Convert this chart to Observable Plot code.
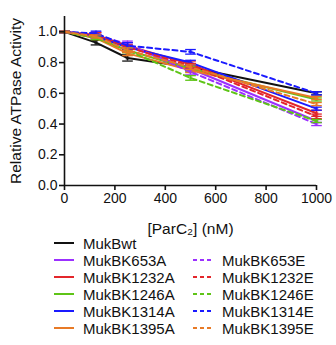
<!DOCTYPE html>
<html>
<head>
<meta charset="utf-8">
<script src="https://cdn.jsdelivr.net/npm/d3@7"></script>
<script src="https://cdn.jsdelivr.net/npm/@observablehq/plot@0.6"></script>
<style>
  body { margin: 0; background: #fff; font-family: "Liberation Sans", Arial, sans-serif; }
  #wrap { position: relative; width: 336px; height: 345px; }
  #chart { position: absolute; left: 0; top: 0; }
  #legend { position: absolute; left: 0; top: 234px; width: 336px; }
  .row { position: absolute; height: 18px; display: flex; align-items: center; font-size: 15px; color: #111; white-space: nowrap; }
  .row svg { margin-right: 9px; }
</style>
</head>
<body>
<div id="wrap"><div id="chart"></div><div id="legend"></div></div>
<script>
const conc = [0, 125, 250, 500, 1000];
const seriesNames = ["MukBwt","MukBK653A","MukBK1232A","MukBK1246A","MukBK1314A","MukBK1395A",
  "MukBK653E","MukBK1232E","MukBK1246E","MukBK1314E","MukBK1395E"];
const seriesColors = ["#111111","#9b30ff","#e3262b","#5ec417","#1a1aff","#e87a26",
  "#9b30ff","#e3262b","#5ec417","#1a1aff","#e87a26"];
const seriesDashed = [false,false,false,false,false,false,true,true,true,true,true];
const vMukBwt     = [1.00, 0.93, 0.83, 0.77, 0.60];
const vMukBK653A  = [1.00, 0.97, 0.91, 0.76, 0.42];
const vMukBK1232A = [1.00, 0.98, 0.91, 0.79, 0.47];
const vMukBK1246A = [1.00, 0.96, 0.88, 0.76, 0.56];
const vMukBK1314A = [1.00, 0.97, 0.90, 0.80, 0.50];
const vMukBK1395A = [1.00, 0.96, 0.86, 0.75, 0.57];
const vMukBK653E  = [1.00, 0.98, 0.92, 0.74, 0.40];
const vMukBK1232E = [1.00, 0.98, 0.90, 0.78, 0.45];
const vMukBK1246E = [1.00, 0.96, 0.88, 0.70, 0.42];
const vMukBK1314E = [1.00, 0.99, 0.91, 0.87, 0.60];
const vMukBK1395E = [1.00, 0.97, 0.88, 0.77, 0.53];
const eMukBwt     = [0.005, 0.015, 0.02, 0.02, 0.01];
const eMukBK653A  = [0.005, 0.015, 0.02, 0.02, 0.01];
const eMukBK1232A = [0.005, 0.015, 0.02, 0.02, 0.02];
const eMukBK1246A = [0.005, 0.01, 0.015, 0.015, 0.01];
const eMukBK1314A = [0.005, 0.01, 0.015, 0.015, 0.01];
const eMukBK1395A = [0.005, 0.01, 0.015, 0.015, 0.01];
const eMukBK653E  = [0.005, 0.02, 0.02, 0.02, 0.01];
const eMukBK1232E = [0.005, 0.015, 0.015, 0.015, 0.015];
const eMukBK1246E = [0.005, 0.01, 0.015, 0.015, 0.01];
const eMukBK1314E = [0.005, 0.015, 0.02, 0.015, 0.01];
const eMukBK1395E = [0.005, 0.01, 0.015, 0.015, 0.01];
const yTicks = [0, 0.2, 0.4, 0.6, 0.8, 1.0];
const xTicks = [0, 200, 400, 600, 800, 1000];
const yTitle = "Relative ATPase Activity";
const xTitle = "[ParC₂] (nM)";

const values = [vMukBwt,vMukBK653A,vMukBK1232A,vMukBK1246A,vMukBK1314A,vMukBK1395A,
  vMukBK653E,vMukBK1232E,vMukBK1246E,vMukBK1314E,vMukBK1395E];
const errors = [eMukBwt,eMukBK653A,eMukBK1232A,eMukBK1246A,eMukBK1314A,eMukBK1395A,
  eMukBK653E,eMukBK1232E,eMukBK1246E,eMukBK1314E,eMukBK1395E];

const data = [];
seriesNames.forEach((s, i) => conc.forEach((c, j) => data.push({
  series: s, x: c, y: values[i][j], lo: values[i][j] - errors[i][j], hi: values[i][j] + errors[i][j]
})));
const capSymbol = { draw(ctx, size) { const w = Math.sqrt(size); ctx.moveTo(-w, 0); ctx.lineTo(w, 0); } };

const marks = [];
seriesNames.forEach((s, i) => {
  const d = data.filter(r => r.series === s);
  marks.push(Plot.ruleX(d, {x: "x", y1: "lo", y2: "hi", stroke: seriesColors[i], strokeWidth: 1.3}));
  marks.push(Plot.dot(d, {x: "x", y: "lo", symbol: capSymbol, r: 3, stroke: seriesColors[i], strokeWidth: 1.3}));
  marks.push(Plot.dot(d, {x: "x", y: "hi", symbol: capSymbol, r: 3, stroke: seriesColors[i], strokeWidth: 1.3}));
  marks.push(Plot.lineY(d, {x: "x", y: "y", stroke: seriesColors[i], strokeWidth: 2,
    strokeDasharray: seriesDashed[i] ? "5,3.5" : null}));
  marks.push(Plot.dot(d, {x: "x", y: "y", symbol: "square", r: 2, fill: seriesColors[i], fillOpacity: 0.6}));
});

const chart = Plot.plot({
  width: 336, height: 240,
  marginLeft: 64, marginRight: 20, marginTop: 16, marginBottom: 55,
  style: {fontFamily: "Liberation Sans, Arial, sans-serif", fontSize: "14px", color: "#111", background: "transparent"},
  x: {domain: [0, 1000]},
  y: {domain: [0, 1.1]},
  marks: [
    ...marks,
    Plot.ruleX([0], {stroke: "#111", strokeWidth: 1.6}),
    Plot.ruleY([0], {stroke: "#111", strokeWidth: 1.6}),
    Plot.axisY(yTicks, {tickSize: 5, tickPadding: 2, strokeWidth: 1.6, stroke: "#111", tickFormat: d3.format(".1f"),
      fontSize: 14, label: null}),
    Plot.axisX(xTicks, {tickSize: 5, tickPadding: 3, strokeWidth: 1.6, stroke: "#111", fontSize: 14,
      tickFormat: d3.format("d"), label: null}),
    Plot.text([yTitle], {frameAnchor: "left", rotate: -90, dx: -48, fontSize: 15.5, fill: "#111",
      textAnchor: "middle", lineAnchor: "middle"}),
    Plot.text([xTitle], {frameAnchor: "bottom", dy: 44, fontSize: 15.5, fill: "#111",
      textAnchor: "middle", lineAnchor: "middle"})
  ]
});
document.getElementById("chart").appendChild(chart);

const legend = document.getElementById("legend");
seriesNames.forEach((s, i) => {
  const col = seriesDashed[i] ? 1 : 0;
  const rowIdx = i === 0 ? 0 : (seriesDashed[i] ? i - 5 : i);
  const div = document.createElement("div");
  div.className = "row";
  div.style.left = (col ? 193 : 54) + "px";
  div.style.top = (rowIdx * 17) + "px";
  div.innerHTML = `<svg width="20" height="4"><line x1="0" x2="20" y1="2" y2="2" stroke="${seriesColors[i]}" stroke-width="2" ${seriesDashed[i] ? 'stroke-dasharray="4,3"' : ''}/></svg><span>${s}</span>`;
  legend.appendChild(div);
});
</script>
</body>
</html>
